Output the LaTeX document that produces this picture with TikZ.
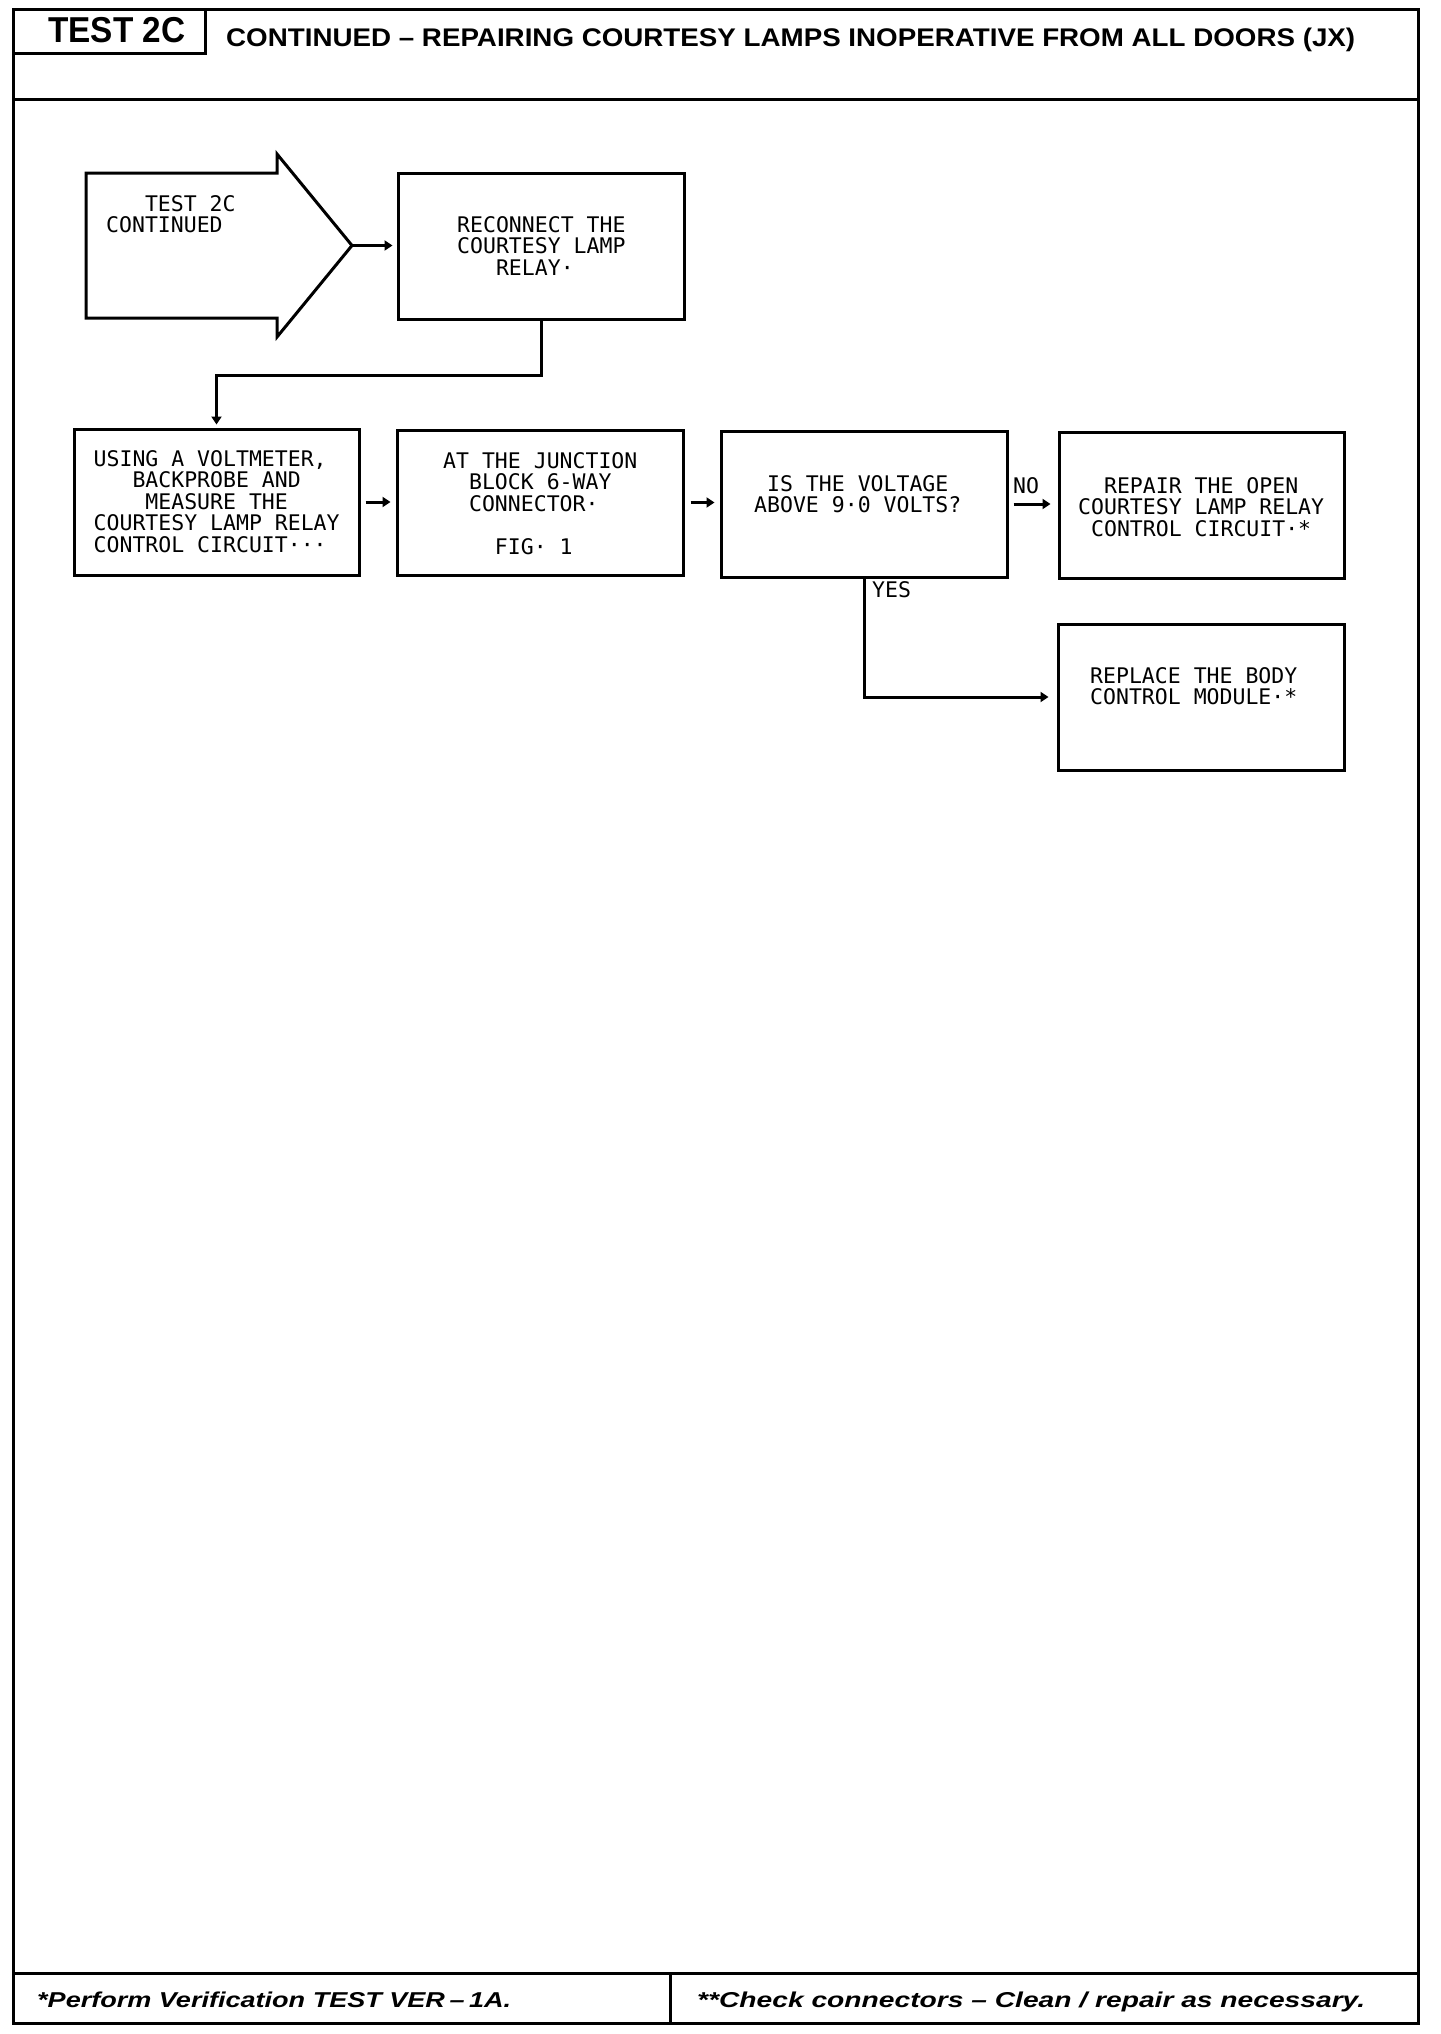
\documentclass[tikz,border=0pt]{standalone}
\usepackage{fontspec}
\usepackage{graphicx}
\setmainfont{Liberation Sans}
\newfontfamily\monof{DejaVu Sans Mono}
\usetikzlibrary{arrows.meta}
\tikzset{
  frame/.style={line width=3pt},
  box/.style={draw, line width=3pt, rectangle, inner sep=0pt},
  txt/.style={font=\monof\fontsize{21.5}{21.5}\selectfont, inner sep=0pt, align=left, anchor=north west},
  conn/.style={line width=3pt, -{Triangle[length=8pt,width=10pt]}},
  htxt/.style={inner sep=0pt, anchor=base west},
}
\begin{document}
\begin{tikzpicture}[x=1pt,y=-1pt]
\useasboundingbox (0,0) rectangle (1440,2034);
% frame
\draw[frame] (13,10) rectangle (1418,2023);
\draw[frame] (13,99) -- (1418,99);
\draw[frame] (13,1973) -- (1418,1973);
\draw[frame] (670,1973) -- (670,2023);
\node[box, minimum width=192pt, minimum height=44pt] (hdr) at (109,32) {};
\node[htxt] (hT) at (48,43) {\resizebox{137pt}{\height}{\fontsize{36}{36}\selectfont\bfseries TEST 2C}};
\node[htxt] (title) at (226,46) {\resizebox{1129pt}{\height}{\fontsize{25.5}{25.5}\selectfont\bfseries CONTINUED – REPAIRING COURTESY LAMPS INOPERATIVE FROM ALL DOORS (JX)}};
\node[htxt] (foot1) at (37,2007) {\resizebox{474pt}{\height}{\fontsize{21.5}{21.5}\selectfont\bfseries\itshape *Perform Verification TEST VER\,–\,1A.}};
\node[htxt] (foot2) at (697,2007) {\resizebox{668pt}{\height}{\fontsize{21.5}{21.5}\selectfont\bfseries\itshape **Check connectors – Clean / repair as necessary.}};

% start arrow
\draw[line width=3pt, line join=miter] (86,173) -- (277,173) -- (277,154) -- (352,245.5) -- (277,337) -- (277,318) -- (86,318) -- cycle;
\coordinate (Stip) at (352,245.5);
\node[txt] (tS) at (106,195) {\hphantom{XXX}TEST 2C\\CONTINUED};

% boxes
\node[box, minimum width=286pt, minimum height=146pt] (A) at (541,246) {};
\node[box, minimum width=285pt, minimum height=146pt] (B) at (216.5,502) {};
\node[box, minimum width=286pt, minimum height=145pt] (C) at (540,502.5) {};
\node[box, minimum width=286pt, minimum height=146pt] (D) at (864,504) {};
\node[box, minimum width=285pt, minimum height=146pt] (E) at (1201.5,505) {};
\node[box, minimum width=286pt, minimum height=146pt] (F) at (1201,697) {};

\node[txt] (tA) at (457,216) {RECONNECT THE\\COURTESY LAMP\\\hphantom{XXX}RELAY·};
\node[txt] (tB) at (93.5,450) {USING A VOLTMETER,\\\hphantom{XXX}BACKPROBE AND\\\hphantom{XXXX}MEASURE THE\\COURTESY LAMP RELAY\\CONTROL CIRCUIT···};
\node[txt] (tC) at (443,452) {AT THE JUNCTION\\\hphantom{XX}BLOCK 6-WAY\\\hphantom{XX}CONNECTOR·\\[21.5pt]\hphantom{XXXX}FIG· 1};
\node[txt] (tD) at (754,475) {\hphantom{X}IS THE VOLTAGE\\ABOVE 9·0 VOLTS?};
\node[txt] (tE) at (1078,477) {\hphantom{XX}REPAIR THE OPEN\\COURTESY LAMP RELAY\\\hphantom{X}CONTROL CIRCUIT·*};
\node[txt] (tF) at (1090,667) {REPLACE THE BODY\\CONTROL MODULE·*};

\node[txt] (no) at (1013,477) {NO};
\node[txt] (yes) at (872,581) {YES};

% connectors
\draw[conn, shorten >=4pt] (Stip) -- (Stip -| A.west);
\draw[conn, shorten >=3pt] (A.south) -- ++(0,55) -| (B.north);
\draw[conn, shorten <=5pt, shorten >=5pt] (B.east) -- (B.east -| C.west);
\draw[conn, shorten <=6pt, shorten >=5pt] (C.east) -- (C.east -| D.west);
\draw[conn, shorten <=5pt, shorten >=7pt] (D.east) -- (D.east -| E.west);
\draw[conn, shorten >=8pt] (D.south) |- (F.west);
\end{tikzpicture}
\end{document}
